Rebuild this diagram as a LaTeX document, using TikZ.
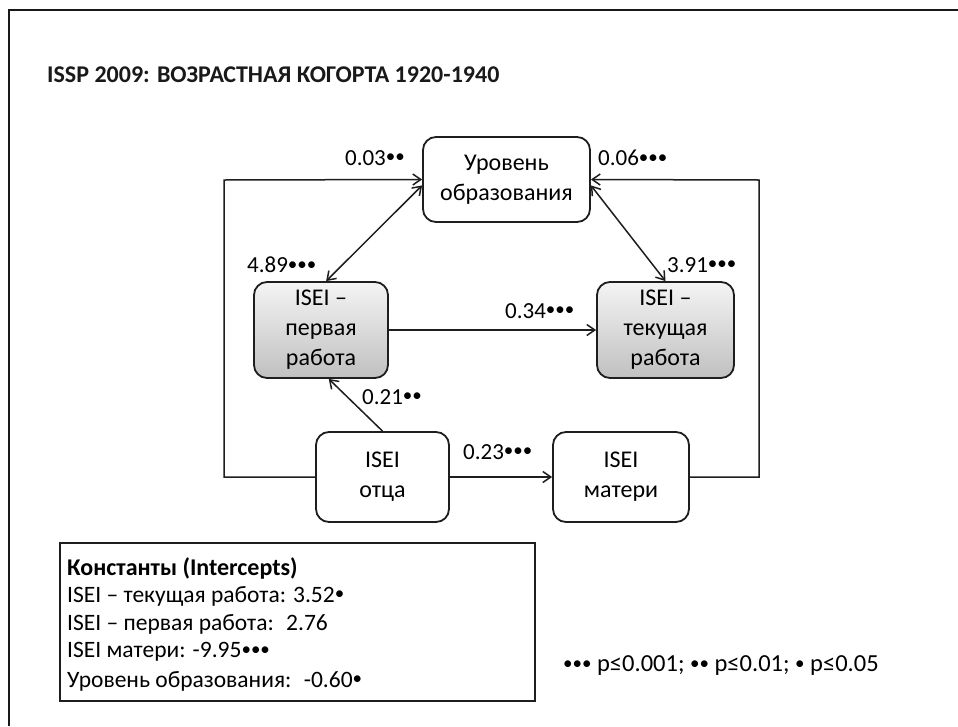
\documentclass[tikz,border=0pt]{standalone}
\usepackage{fontspec}
\setmainfont{Carlito}
\usetikzlibrary{arrows.meta}
\definecolor{gtop}{RGB}{244,244,244}
\definecolor{gbot}{RGB}{192,192,192}
\definecolor{ln}{RGB}{30,30,30}
\newcommand\bul{{\fontsize{19}{19}\selectfont\raisebox{2.5pt}{•}}}
\begin{document}
\begin{tikzpicture}[x=1pt,y=-1pt,
  box/.style={draw=ln, line width=1.8pt, rounded corners=13pt, align=center,
    font=\fontsize{24}{30}\selectfont, inner sep=0pt},
  wbox/.style={box, fill=white},
  gbox/.style={box, top color=gtop, bottom color=gbot},
  lab/.style={font=\fontsize{23}{26}\selectfont, inner sep=0pt},
  conn/.style={draw=ln, line width=1.5pt},
  arr/.style={conn, -{Straight Barb[length=8pt,width=11pt]}},
  darr/.style={conn, {Straight Barb[length=8pt,width=11pt]}-{Straight Barb[length=8pt,width=11pt]}},
  ctext/.style={anchor=west, inner sep=0pt, font=\fontsize{23.5}{28}\selectfont}]

\useasboundingbox (0,0) rectangle (958,726);
\fill[white] (0,0) rectangle (958,726);
\draw[line width=2pt, black!90] (958,10) -- (9,10) -- (9,726);

\node[anchor=west, inner sep=0pt, font=\fontsize{24}{28}\selectfont\bfseries, text=black!90] (title) at (47,75) {ISSP 2009: ВОЗРАСТНАЯ КОГОРТА 1920-1940};

\node[wbox, minimum width=167pt, minimum height=85pt] (edu) at (506.5,179.5) {Уровень\\образования};
\node[gbox, minimum width=134pt, minimum height=96pt] (first) at (321,330) {ISEI –\\первая\\работа};
\node[gbox, minimum width=137pt, minimum height=96pt] (cur) at (665.5,330) {ISEI –\\текущая\\работа};
\node[wbox, minimum width=133pt, minimum height=90pt] (father) at (382.5,477) {ISEI\\отца};
\node[wbox, minimum width=136pt, minimum height=90pt] (mother) at (621,477) {ISEI\\матери};

\coordinate (lb) at (224,477);
\coordinate (lt) at (224,180);
\coordinate (rb) at (759,477);
\coordinate (rt) at (759,180);

\draw[arr] (father.west) -- (lb) -- (lt) -- (edu.west);
\draw[arr] (mother.east) -- (rb) -- (rt) -- (edu.east);
\draw[darr] (edu.184) -- (first.84);
\draw[darr] (edu.-4) -- (cur.north);
\draw[arr] (first.east) -- (cur.west);
\draw[arr] (father.north) -- (first.-81);
\draw[arr] (father.east) -- (mother.west);

\node[lab, anchor=east] (l003) at (405,158) {0.03\bul\bul};
\node[lab, anchor=west] (l006) at (598,158) {0.06\bul\bul\bul};
\node[lab, anchor=west] (l489) at (247,265) {4.89\bul\bul\bul};
\node[lab, anchor=west] (l391) at (667,265) {3.91\bul\bul\bul};
\node[lab, anchor=west] (l034) at (505,311) {0.34\bul\bul\bul};
\node[lab, anchor=west] (l021) at (362,397) {0.21\bul\bul};
\node[lab, anchor=west] (l023) at (463,452) {0.23\bul\bul\bul};

\node[draw=ln, line width=1.8pt, minimum width=475pt, minimum height=158pt, inner sep=0pt] (const) at (297.5,622) {};
\node[ctext, font=\fontsize{24}{28}\selectfont\bfseries] (c0) at (67,568) {Константы (Intercepts)};
\node[ctext] (c1) at (67,596) {ISEI – текущая работа: 3.52\bul};
\node[ctext] (c2) at (67,624) {ISEI – первая работа:~ 2.76};
\node[ctext] (c3) at (67,652) {ISEI матери: -9.95\bul\bul\bul};
\node[ctext] (c4) at (67,681) {Уровень образования:~ -0.60\bul};

\node[lab, anchor=west, font=\fontsize{24.5}{26}\selectfont] (legend) at (563,666) {\bul\bul\bul{} p≤0.001; \bul\bul{} p≤0.01; \bul{} p≤0.05};
\end{tikzpicture}
\end{document}
